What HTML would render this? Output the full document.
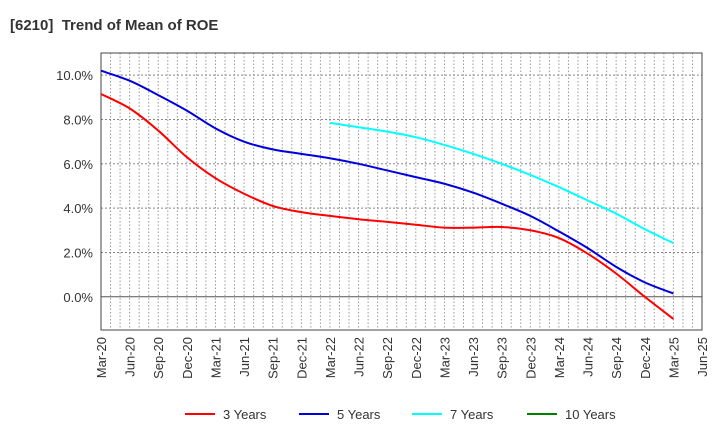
<!DOCTYPE html>
<html><head><meta charset="utf-8"><style>
body{margin:0;background:#fff;font-family:"Liberation Sans",sans-serif}
svg text{font-family:"Liberation Sans",sans-serif}
</style></head><body>
<svg width="720" height="440">
<text x="10" y="30" font-size="15" font-weight="bold" fill="#333">[6210]&#160; Trend of Mean of ROE</text>
<g id="grid"></g><g id="axes"></g><g id="series"></g><g id="legend"></g>
</svg>
<script>
const xLabels=["Mar-20","Jun-20","Sep-20","Dec-20","Mar-21","Jun-21","Sep-21","Dec-21","Mar-22","Jun-22","Sep-22","Dec-22","Mar-23","Jun-23","Sep-23","Dec-23","Mar-24","Jun-24","Sep-24","Dec-24","Mar-25","Jun-25"];
const yTicks=[0,2,4,6,8,10];
const s3=[9.15,8.5,7.5,6.3,5.35,4.65,4.1,3.82,3.65,3.5,3.38,3.25,3.12,3.12,3.15,3.0,2.65,1.95,1.05,0.0,-1.0];
const s5=[10.2,9.75,9.1,8.4,7.6,7.0,6.65,6.45,6.25,6.0,5.7,5.4,5.1,4.7,4.2,3.65,2.95,2.2,1.35,0.65,0.15];
const s7=[null,null,null,null,null,null,null,null,7.85,7.65,7.45,7.2,6.85,6.45,6.0,5.5,4.95,4.35,3.75,3.05,2.42];
const s10=[];
const L=101,R=702,T=53,B=330,YMIN=-1.5,YMAX=11.0;
const X=i=>L+i*(R-L)/(xLabels.length-1);
const Y=v=>B-(v-YMIN)*(B-T)/(YMAX-YMIN);
const NS="http://www.w3.org/2000/svg";
function mk(t,a,p){const e=document.createElementNS(NS,t);for(const k in a)e.setAttribute(k,a[k]);p.appendChild(e);return e;}
const grid=document.getElementById('grid'),axes=document.getElementById('axes'),ser=document.getElementById('series'),leg=document.getElementById('legend');
for(let m=1;m<(xLabels.length-1)*3;m++){const x=L+m*(R-L)/((xLabels.length-1)*3);
const g=mk('line',{x1:x,x2:x,y1:T,y2:B,stroke:'#999','stroke-dasharray':'1.5,2','stroke-width':1},grid);

}
yTicks.forEach(v=>{const y=Y(v);
const g=mk('line',{x1:L,x2:R,y1:y,y2:y,stroke:v===0?'#555':'#888','stroke-dasharray':v===0?'none':'2,2','stroke-width':1},grid);


const t=mk('text',{x:L-8,y:y+5,'text-anchor':'end','font-size':13,fill:'#333'},axes);t.textContent=v.toFixed(1)+'%';

});
const fr=mk('rect',{x:L,y:T,width:R-L,height:B-T,fill:'none',stroke:'#444','stroke-width':1},axes);


xLabels.forEach((l,i)=>{const x=X(i);
const t=mk('text',{transform:`translate(${x+5},${B+7}) rotate(-90)`,'text-anchor':'end','font-size':13,fill:'#333'},axes);t.textContent=l;

});
function path(arr){const p=[];arr.forEach((v,i)=>{if(v!==null&&v!==undefined)p.push([X(i),Y(v)]);});
if(p.length<2)return '';let d=`M${p[0][0]},${p[0][1]}`;
for(let i=0;i<p.length-1;i++){const p0=p[i-1]||p[i],p1=p[i],p2=p[i+1],p3=p[i+2]||p2;
d+=` C${p1[0]+(p2[0]-p0[0])/6},${p1[1]+(p2[1]-p0[1])/6} ${p2[0]-(p3[0]-p1[0])/6},${p2[1]-(p3[1]-p1[1])/6} ${p2[0]},${p2[1]}`;}return d;}
const series=[[s3,'#ff0000','3 Years','line-3-years'],[s5,'#0000dd','5 Years','line-5-years'],[s7,'#00ffff','7 Years','line-7-years'],[s10,'#008000','10 Years','line-10-years']];
series.forEach(([a,c,n,id])=>{const d=path(a);if(d){const e=mk('path',{d,fill:'none',stroke:c,'stroke-width':2},ser);

}});
const lx=[185,299,412,527];
series.forEach(([a,c,n,id],i)=>{const g=mk('g',{},leg);


mk('line',{x1:lx[i],x2:lx[i]+30,y1:414,y2:414,stroke:c,'stroke-width':2},g);
const t=mk('text',{x:lx[i]+38,y:419,'font-size':13,fill:'#333'},g);t.textContent=n;});
</script>
</body></html>
